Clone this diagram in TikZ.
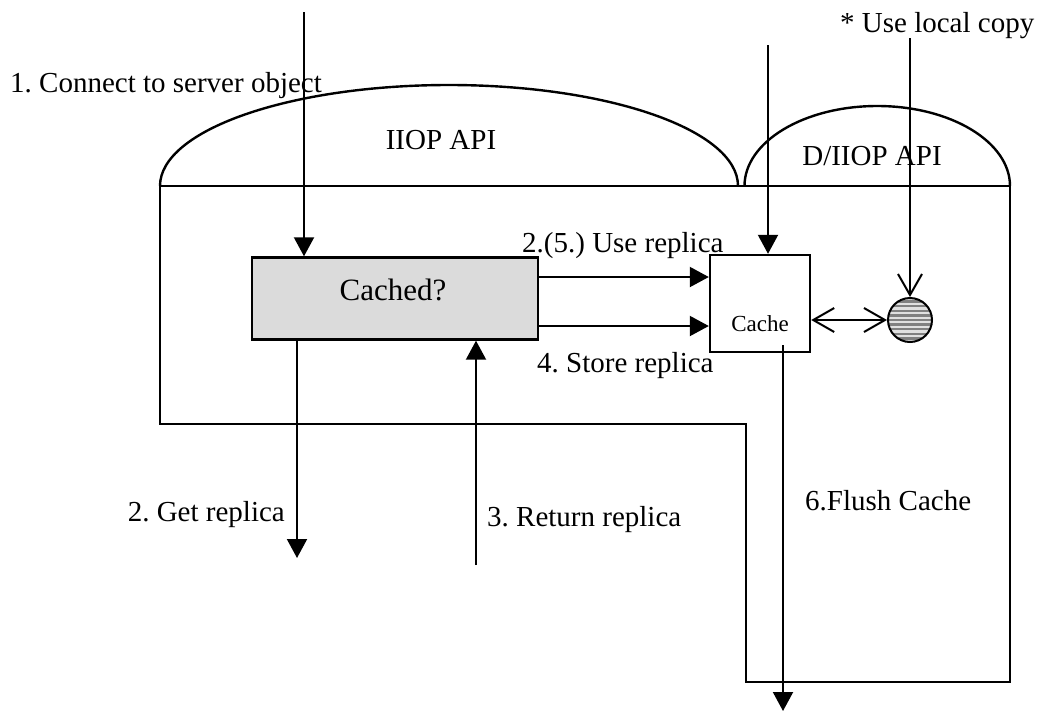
\documentclass[tikz,border=0pt]{standalone}
\usepackage{fontspec}
\setmainfont{Liberation Serif}
\usetikzlibrary{arrows.meta}
\frenchspacing
\begin{document}
\begin{tikzpicture}[x=1pt,y=-1pt,
  lbl/.style={font=\fontsize{29}{34}\selectfont, inner sep=0pt},
  frame/.style={line width=2.4pt},
  flow/.style={line width=2pt,-{Triangle[length=19pt,width=20pt]}},
  openflow/.style={line width=2pt,-{Straight Barb[length=21pt,width=24pt,line width=2pt]}},
  bothflow/.style={line width=2pt,{Straight Barb[length=21pt,width=24pt,line width=2pt]}-{Straight Barb[length=21pt,width=24pt,line width=2pt]}},
  decision/.style={draw, line width=2.4pt, fill=black!14, minimum width=286pt, minimum height=82pt, inner sep=0pt},
  store/.style={draw, line width=2.4pt, fill=white, minimum width=100pt, minimum height=97pt, inner sep=0pt},
  localcopy/.style={circle, draw, line width=2pt, minimum size=44pt, inner sep=0pt, fill=black!12,
    path picture={\foreach \k in {-5,...,5}
      \draw[black!50, line width=2.3pt] ([xshift=-30pt,yshift=\k*4.6pt]path picture bounding box.center) -- ++(60pt,0);}}
]
\useasboundingbox (0,0) rectangle (1039,713);

% API domes and the surrounding frame
\draw[frame] (160,186) arc[start angle=180,end angle=0,x radius=289pt,y radius=101pt];
\draw[frame] (744.5,186) arc[start angle=180,end angle=0,x radius=132.75pt,y radius=80pt];
\draw[frame] (160,186) -- (1010,186) -- (1010,682) -- (746,682) -- (746,424) -- (160,424) -- cycle;

\node[lbl, anchor=base] (iiop) at (441,149) {IIOP API};
\node[lbl, anchor=base] (diiop) at (872,165) {D/IIOP API};

% main elements
\node[decision] (cached) at (395,298.5) {};
\node[font=\fontsize{31}{36}\selectfont, inner sep=0pt, anchor=base] (cachedtxt) at (393,300) {Cached?};
\node[store] (cache) at (760,303.5) {};
\node[font=\fontsize{23}{27}\selectfont, inner sep=0pt, anchor=base] (cachetxt) at (760,331) {Cache};
\node[localcopy] (local) at (910,320) {};

% entry points
\coordinate (in1) at (304,12);
\coordinate (in2) at (768,45);
\coordinate (in3) at (910,38);
\draw[flow] (in1) -- (in1 |- cached.north);
\draw[flow] (in2) -- (in2 |- cache.north);
\draw[openflow] (in3) -- (local.north);

% replica flows between the decision and the cache
\coordinate (use) at (0,277);
\coordinate (sto) at (0,326);
\draw[flow] (cached.east |- use) -- (cache.west |- use);
\draw[flow] (cached.east |- sto) -- (cache.west |- sto);
\draw[bothflow] (cache.east |- local.west) -- (local.west);

% flows leaving / entering the frame
\coordinate (get) at (297,558);
\coordinate (ret) at (476,565);
\coordinate (flush) at (783,711);
\coordinate (flushstart) at (783,345);
\draw[flow] (get |- cached.south) -- (get);
\draw[flow] (ret) -- (ret |- cached.south);
\draw[flow] (flushstart) -- (flush);

% labels
\node[lbl, anchor=base west] (l1) at (10,92) {1. Connect to server object};
\node[lbl, anchor=base west] (lstar) at (840,32) {* Use local copy};
\node[lbl, anchor=base west] (l25) at (522,252) {2.(5.) Use replica};
\node[lbl, anchor=base west] (l4) at (537,372) {4. Store replica};
\node[lbl, anchor=base east] (l2) at (285,521) {2. Get replica};
\node[lbl, anchor=base west] (l3) at (487,526) {3. Return replica};
\node[lbl, anchor=base west] (l6) at (805,510) {6.Flush Cache};
\end{tikzpicture}
\end{document}
